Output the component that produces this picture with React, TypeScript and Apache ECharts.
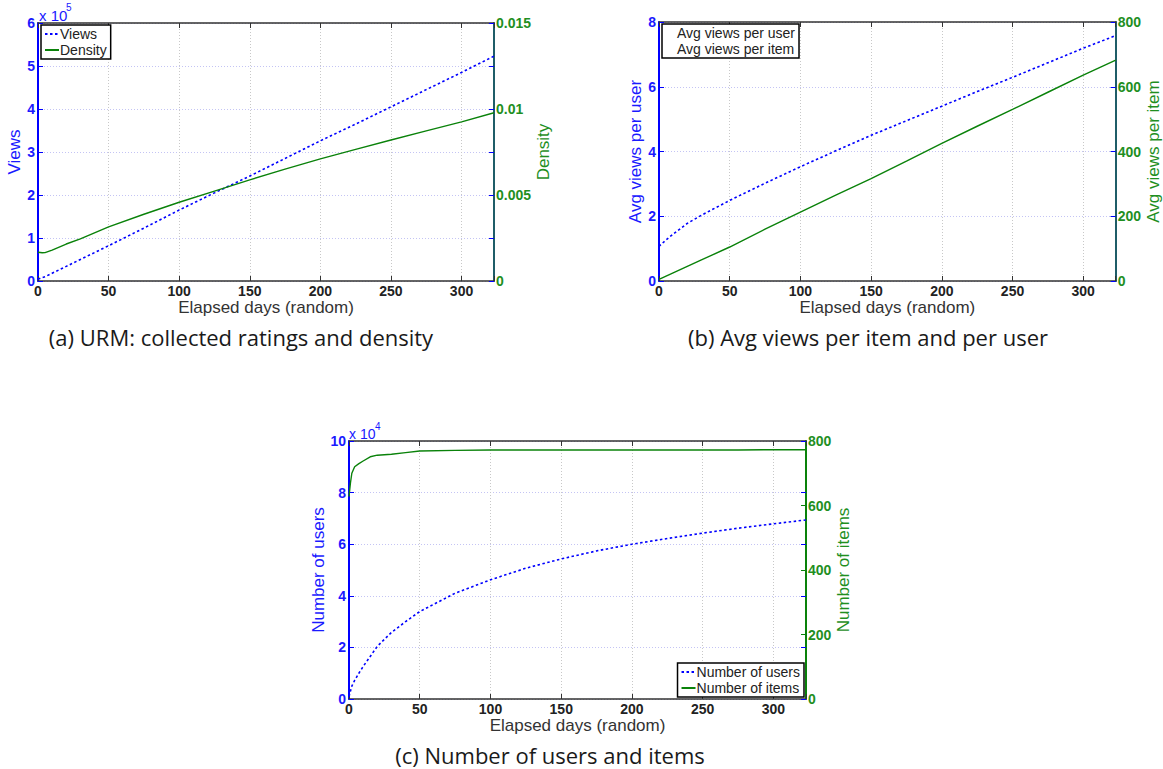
import React, { useEffect, useRef } from "react";
import * as echarts from "echarts";

// ---------- data ----------
const daysA = [0, 3, 5, 10, 20, 30, 50, 75, 100, 125, 150, 175, 200, 225, 250, 275, 300, 323];
const viewsA = [4000, 8000, 10000, 18000, 34000, 50000, 82000, 123000, 165000, 205000, 244000, 285000, 326000, 365000, 405000, 445000, 485000, 523000];
const densityA = [0.00167, 0.00164, 0.00165, 0.0018, 0.00215, 0.00245, 0.00315, 0.00388, 0.00458, 0.00523, 0.00588, 0.0065, 0.0071, 0.00765, 0.0082, 0.00873, 0.00925, 0.00978];

const daysB = [0, 5, 10, 20, 30, 50, 75, 100, 125, 150, 175, 200, 225, 250, 275, 300, 323];
const perUserB = [1.07, 1.27, 1.45, 1.78, 2.03, 2.49, 3.02, 3.53, 4.02, 4.5, 4.95, 5.4, 5.85, 6.29, 6.74, 7.19, 7.58];
const perItemB = [5, 15, 25, 45, 65, 105, 160, 213, 265, 316, 370, 425, 478, 530, 583, 636, 682];

const daysC = [0, 1, 2, 4, 7, 10, 15, 20, 30, 40, 50, 75, 100, 125, 150, 175, 200, 225, 250, 275, 300, 323];
const usersC = [1000, 3000, 5000, 7200, 10000, 12600, 16500, 20400, 25800, 30000, 33900, 41000, 46200, 50700, 54300, 57400, 60000, 62200, 64300, 66200, 67900, 69400];
const itemsC = [628, 669, 700, 720, 730, 738, 751, 756, 759, 764, 769, 771, 772, 772, 772, 772, 772, 772, 772, 772, 773, 773];

const xTicks = [0, 50, 100, 150, 200, 250, 300];
const X_MAX = 323;

const captions = [
  "(a) URM: collected ratings and density",
  "(b) Avg views per item and per user",
  "(c) Number of users and items",
];

// ---------- styles ----------
const FONT = '"Liberation Sans", Arial, Helvetica, sans-serif';
const CAP_FONT = '"Open Sans", "Noto Sans", sans-serif';
const BLUE = "#0000ff";
const BLUE_TXT = "#1a1aff";
const GREEN = "#0a820a";
const GREEN_TXT = "#1f8f1f";
const TEAL = "#1f5d68";
const DARK = "#333333";

const zip = (xs: number[], ys: number[]) => xs.map((x, i) => [x, ys[i]]);

const grids = [
  { left: 38, top: 23, width: 456, height: 258 },
  { left: 659, top: 22, width: 457, height: 259 },
  { left: 349, top: 441, width: 457, height: 258 },
];

function bottomX(gridIndex: number) {
  return {
    type: "value",
    gridIndex,
    position: "bottom",
    min: 0,
    max: X_MAX,
    interval: 50,
    axisLine: { onZero: false, lineStyle: { color: DARK, width: 1.5 } },
    axisTick: { inside: true, length: 5, lineStyle: { color: DARK } },
    axisLabel: {
      color: "#222",
      fontSize: 14,
      fontWeight: "bold",
      margin: 3,
      fontFamily: FONT,
      formatter: (v: number) => (xTicks.indexOf(v) >= 0 ? String(v) : ""),
    },
    splitLine: { show: true, lineStyle: { color: "#c8c8c8", type: [1, 2], width: 1 } },
    name: "Elapsed days (random)",
    nameLocation: "middle",
    nameGap: 13,
    nameTextStyle: { fontSize: 17, color: DARK, fontFamily: FONT },
  };
}

function topX(gridIndex: number) {
  return {
    type: "value",
    gridIndex,
    position: "top",
    min: 0,
    max: X_MAX,
    interval: 50,
    axisLine: { onZero: false, lineStyle: { color: DARK, width: 1.5 } },
    axisTick: { inside: true, length: 5, lineStyle: { color: DARK } },
    axisLabel: { show: false },
    splitLine: { show: false },
  };
}

function leftY(gridIndex: number, max: number, interval: number, name: string, nameGap: number, fmt: (v: number) => string) {
  return {
    type: "value",
    gridIndex,
    position: "left",
    min: 0,
    max,
    interval,
    axisLine: { show: true, onZero: false, lineStyle: { color: BLUE, width: 2 } },
    axisTick: { show: true, inside: true, length: 5, lineStyle: { color: BLUE } },
    axisLabel: { color: BLUE_TXT, fontSize: 14, fontWeight: "bold", margin: 3, fontFamily: FONT, formatter: fmt },
    splitLine: { show: true, lineStyle: { color: "#c4c4f4", type: [1, 2], width: 1 } },
    name,
    nameLocation: "middle",
    nameGap,
    nameTextStyle: { fontSize: 17, color: BLUE_TXT, fontFamily: FONT },
  };
}

function rightY(gridIndex: number, max: number, interval: number, name: string, nameGap: number, lineColor: string, fmt: (v: number) => string) {
  return {
    type: "value",
    gridIndex,
    position: "right",
    min: 0,
    max,
    interval,
    axisLine: { show: true, onZero: false, lineStyle: { color: lineColor, width: 2 } },
    axisTick: { show: true, inside: true, length: 5, lineStyle: { color: GREEN } },
    axisLabel: { color: GREEN_TXT, fontSize: 14, fontWeight: "bold", margin: 2, fontFamily: FONT, formatter: fmt },
    splitLine: { show: false },
    name,
    nameLocation: "middle",
    nameGap,
    nameTextStyle: { fontSize: 17, color: GREEN_TXT, fontFamily: FONT },
  };
}

function mirrorY(gridIndex: number, max: number, interval: number) {
  return {
    type: "value",
    gridIndex,
    position: "right",
    min: 0,
    max,
    interval,
    axisLine: { show: false, onZero: false },
    axisTick: { show: true, inside: true, length: 5, lineStyle: { color: BLUE } },
    axisLabel: { show: false },
    splitLine: { show: false },
  };
}

const dashed = { color: BLUE, type: [2.5, 2.5], width: 1.6 };
const solid = { color: GREEN, type: "solid", width: 1.4 };

function legendBox(names: string[], pos: any, hideIcons = false) {
  return {
    data: names,
    orient: "vertical",
    ...pos,
    padding: [2, 4, 2, 3],
    itemGap: 2,
    itemWidth: hideIcons ? 10 : 14,
    itemHeight: 14,
    backgroundColor: "#fff",
    borderColor: "#000",
    borderWidth: 1.5,
    borderRadius: 0,
    itemStyle: { opacity: 0 },
    lineStyle: hideIcons ? { opacity: 0 } : {},
    textStyle: { fontSize: 14, color: "#222", fontFamily: FONT, padding: [0, 0, 0, -4] },
  };
}

export default function App() {
  const ref = useRef<HTMLDivElement>(null);

  useEffect(() => {
    if (!ref.current) return;
    const chart = echarts.init(ref.current, undefined, { renderer: "svg" });
    const option: any = {
      animation: false,
      backgroundColor: "#fff",
      textStyle: { fontFamily: FONT },
      grid: grids,
      legend: [
        legendBox(["Views", "Density"], { left: 41, top: 25 }),
        legendBox(["Avg views per user", "Avg views per item"], { left: 662, top: 24 }, true),
        legendBox(["Number of users", "Number of items"], { right: 359, top: 663 }),
      ],
      xAxis: [bottomX(0), topX(0), bottomX(1), topX(1), bottomX(2), topX(2)],
      yAxis: [
        leftY(0, 600000, 100000, "Views", 11, (v: number) => String(v / 1e5)),
        rightY(0, 0.015, 0.005, "Density", 35, TEAL, (v: number) => String(parseFloat(v.toFixed(4)))),
        mirrorY(0, 600000, 100000),
        leftY(1, 8, 2, "Avg views per user", 13, (v: number) => String(v)),
        rightY(1, 800, 200, "Avg views per item", 18, TEAL, (v: number) => String(v)),
        mirrorY(1, 8, 2),
        leftY(2, 100000, 20000, "Number of users", 18, (v: number) => String(v / 1e4)),
        rightY(2, 800, 200, "Number of items", 24, GREEN, (v: number) => String(v)),
        mirrorY(2, 100000, 20000),
      ],
      series: [
        { type: "line", name: "Views", xAxisIndex: 0, yAxisIndex: 0, data: zip(daysA, viewsA), symbol: "none", lineStyle: dashed, itemStyle: { color: BLUE }, z: 3 },
        { type: "line", name: "Density", xAxisIndex: 0, yAxisIndex: 1, data: zip(daysA, densityA), symbol: "none", lineStyle: solid, itemStyle: { color: GREEN }, z: 3 },
        { type: "line", name: "Avg views per user", xAxisIndex: 2, yAxisIndex: 3, data: zip(daysB, perUserB), symbol: "none", lineStyle: dashed, itemStyle: { color: BLUE }, z: 3 },
        { type: "line", name: "Avg views per item", xAxisIndex: 2, yAxisIndex: 4, data: zip(daysB, perItemB), symbol: "none", lineStyle: solid, itemStyle: { color: GREEN }, z: 3 },
        { type: "line", name: "Number of users", xAxisIndex: 4, yAxisIndex: 6, data: zip(daysC, usersC), symbol: "none", lineStyle: dashed, itemStyle: { color: BLUE }, z: 3 },
        { type: "line", name: "Number of items", xAxisIndex: 4, yAxisIndex: 7, data: zip(daysC, itemsC), symbol: "none", lineStyle: solid, itemStyle: { color: GREEN }, z: 3 },
      ],
      graphic: [
        { type: "text", left: 39, top: 8, style: { text: "x 10", fill: BLUE_TXT, font: `15px ${FONT}` } },
        { type: "text", left: 66, top: 2, style: { text: "5", fill: BLUE_TXT, font: `10px ${FONT}` } },
        { type: "text", left: 349, top: 427, style: { text: "x 10", fill: BLUE_TXT, font: `14px ${FONT}` } },
        { type: "text", left: 375, top: 421, style: { text: "4", fill: BLUE_TXT, font: `10px ${FONT}` } },
        { type: "text", x: 241, y: 337, style: { text: captions[0], fill: "#1a1a1a", font: `22px ${CAP_FONT}`, align: "center", verticalAlign: "middle" } },
        { type: "text", x: 868, y: 337, style: { text: captions[1], fill: "#1a1a1a", font: `22px ${CAP_FONT}`, align: "center", verticalAlign: "middle" } },
        { type: "text", x: 550, y: 755, style: { text: captions[2], fill: "#1a1a1a", font: `22px ${CAP_FONT}`, align: "center", verticalAlign: "middle" } },
      ],
    };
    chart.setOption(option);
    return () => chart.dispose();
  }, []);

  return (
    <div
      ref={ref}
      style={{ position: "absolute", left: 0, top: 0, width: 1163, height: 769, background: "#fff" }}
    />
  );
}
